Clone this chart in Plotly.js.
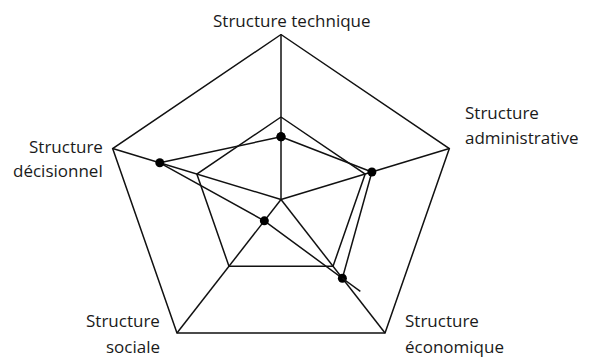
<!DOCTYPE html>
<html>
<head>
<meta charset="utf-8">
<script src="https://cdn.plot.ly/plotly-3.0.1.min.js"></script>
<style>
  body { margin: 0; background: #fff; }
  #myDiv { width: 592px; height: 358px; }
</style>
</head>
<body>
<div id="myDiv"></div>
<script>
var categories = ['Structure technique', 'Structure administrative', 'Structure économique', 'Structure sociale', 'Structure décisionnel'];
var scores = [0.38, 0.54, 0.59, 0.16, 0.72];
var gridLevels = [0.5, 1];
var labelLines = [['Structure technique'], ['Structure', 'administrative'], ['Structure', 'économique'], ['Structure', 'sociale'], ['Structure', 'décisionnel']];

var n = categories.length;
function ax(r, i) { return r * Math.sin(i * 2 * Math.PI / n); }
function ay(r, i) { return r * Math.cos(i * 2 * Math.PI / n); }

// grid: pentagons + spokes
var gx = [], gy = [];
gridLevels.forEach(function (lev) {
  for (var i = 0; i <= n; i++) { gx.push(ax(lev, i % n)); gy.push(ay(lev, i % n)); }
  gx.push(null); gy.push(null);
});
for (var i = 0; i < n; i++) {
  gx.push(0, ax(1, i), null);
  gy.push(0, ay(1, i), null);
}

var grid = {
  x: gx, y: gy,
  mode: 'lines',
  line: { color: '#111', width: 1.5 },
  hoverinfo: 'skip'
};

var sx = [], sy = [];
for (var i = 0; i <= n; i++) { sx.push(ax(scores[i % n], i % n)); sy.push(ay(scores[i % n], i % n)); }

var trace1 = {
  x: sx, y: sy,
  mode: 'lines+markers',
  line: { color: '#111', width: 1.5 },
  marker: { size: 9, color: '#000' },
  text: categories.concat([categories[0]]),
  hoverinfo: 'text'
};

// the sociale -> économique stroke runs a little past the point in the original
var ex = sx[2] + 0.23 * (sx[2] - sx[3]);
var ey = sy[2] + 0.23 * (sy[2] - sy[3]);
var overshoot = {
  x: [sx[2], ex], y: [sy[2], ey],
  mode: 'lines',
  line: { color: '#111', width: 1.5 },
  hoverinfo: 'skip'
};

// label placement (pixels)
var labelPos = [
  { x: 292, y: [20], anchor: 'center' },
  { x: 465, y: [112, 137], anchor: 'left' },
  { x: 405, y: [320, 346], anchor: 'left' },
  { x: 159.5, y: [320, 346], anchor: 'right' },
  { x: 103, y: [146, 170], anchor: 'right' }
];

var W = 592, H = 358;
var annotations = [];
labelLines.forEach(function (lines, i) {
  lines.forEach(function (txt, j) {
    annotations.push({
      text: txt,
      xref: 'paper', yref: 'paper',
      x: labelPos[i].x / W, y: 1 - labelPos[i].y[j] / H,
      xanchor: labelPos[i].anchor, yanchor: 'middle',
      showarrow: false, borderpad: 0, borderwidth: 0,
      font: { family: 'Open Sans, sans-serif', size: 17, color: '#1a1a1a' }
    });
  });
});

var layout = {
  width: W,
  height: H,
  margin: { l: 0, r: 0, t: 0, b: 0 },
  showlegend: false,
  paper_bgcolor: '#fff',
  plot_bgcolor: '#fff',
  xaxis: { range: [-1.5876, 1.7571], visible: false, fixedrange: true },
  yaxis: { range: [-0.9606, 1.2091], visible: false, fixedrange: true },
  annotations: annotations
};

Plotly.newPlot('myDiv', [grid, trace1, overshoot], layout, { displayModeBar: false });
</script>
</body>
</html>
